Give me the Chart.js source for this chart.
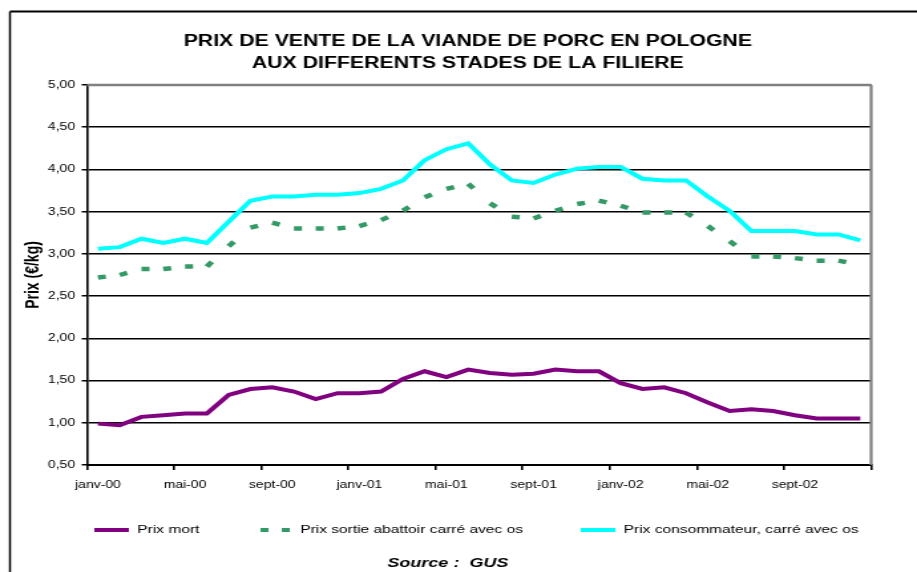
<!DOCTYPE html>
<html lang="fr">
<head>
<meta charset="utf-8">
<title>Prix de vente de la viande de porc en Pologne</title>
<script src="https://cdn.jsdelivr.net/npm/chart.js@4.4.1/dist/chart.umd.min.js"></script>
<style>
  html, body { margin: 0; padding: 0; background: #fff; overflow: hidden; }
  #prixChart { display: block; }
</style>
</head>
<body>
<!-- drawn at 690px wide then widened to 917px, like the old pasted chart -->
<canvas id="prixChart" width="690" height="572" style="width:917px;height:572px"></canvas>
<script>
const mois = [
  "janv-00", "févr-00", "mars-00", "avr-00", "mai-00", "juin-00", "juil-00", "août-00", "sept-00", "oct-00", "nov-00", "déc-00",
  "janv-01", "févr-01", "mars-01", "avr-01", "mai-01", "juin-01", "juil-01", "août-01", "sept-01", "oct-01", "nov-01", "déc-01",
  "janv-02", "févr-02", "mars-02", "avr-02", "mai-02", "juin-02", "juil-02", "août-02", "sept-02", "oct-02", "nov-02", "déc-02",
];

// €/kg
const prixMort = [
  0.99, 0.97, 1.07, 1.09, 1.11, 1.11, 1.33, 1.40, 1.42, 1.37, 1.28, 1.35,
  1.35, 1.37, 1.52, 1.61, 1.54, 1.63, 1.59, 1.57, 1.58, 1.63, 1.61, 1.61,
  1.47, 1.40, 1.42, 1.35, 1.24, 1.14, 1.16, 1.14, 1.09, 1.05, 1.05, 1.05,
];
const prixAbattoir = [
  2.72, 2.75, 2.82, 2.82, 2.85, 2.85, 3.09, 3.31, 3.37, 3.30, 3.30, 3.30,
  3.33, 3.40, 3.51, 3.67, 3.77, 3.83, 3.60, 3.44, 3.42, 3.51, 3.59, 3.63,
  3.57, 3.49, 3.49, 3.49, 3.33, 3.15, 2.97, 2.97, 2.95, 2.92, 2.92, 2.87,
];
const prixConsommateur = [
  3.06, 3.08, 3.18, 3.13, 3.18, 3.13, 3.38, 3.63, 3.68, 3.68, 3.70, 3.70,
  3.72, 3.77, 3.87, 4.11, 4.24, 4.31, 4.06, 3.87, 3.84, 3.94, 4.01, 4.03,
  4.03, 3.89, 3.87, 3.87, 3.68, 3.51, 3.27, 3.27, 3.27, 3.23, 3.23, 3.16,
];

const yMin = 0.5;
const yMax = 5;
const yPas = 0.5;
const pasEtiquettes = 4; // one month label out of four

const VIOLET = "#800080";
const VERT = "#339966";
const CYAN = "#00FFFF";

Chart.defaults.font.family = '"Liberation Sans", Arial, sans-serif';
Chart.defaults.color = "#000";

// small pictures used as legend keys
function echantillon(couleur, tirets) {
  const c = document.createElement("canvas");
  c.width = 26;
  c.height = 4;
  const g = c.getContext("2d");
  g.fillStyle = couleur;
  if (tirets) {
    g.fillRect(2, 0, 6, 4);
    g.fillRect(18, 0, 6, 4);
  } else {
    g.fillRect(0, 0, 26, 4);
  }
  return c;
}

const cadre = {
  id: "cadre",
  beforeDraw(chart) {
    const ctx = chart.ctx;
    ctx.save();
    ctx.fillStyle = "#fff";
    ctx.fillRect(0, 0, chart.width, chart.height);
    ctx.strokeStyle = "#000";
    ctx.lineWidth = 2;
    ctx.beginPath();
    ctx.moveTo(7.5, 11.5);
    ctx.lineTo(chart.width, 11.5);
    ctx.stroke();
    ctx.lineWidth = 1.5;
    ctx.beginPath();
    ctx.moveTo(7.5, 11.5);
    ctx.lineTo(7.5, chart.height);
    ctx.stroke();
    ctx.restore();
  },
  beforeDatasetsDraw(chart) {
    // grey edge of the plot area, top and right
    const { ctx, chartArea: a } = chart;
    ctx.save();
    ctx.strokeStyle = "#808080";
    ctx.lineWidth = 2.5;
    ctx.beginPath();
    ctx.moveTo(a.left, a.top);
    ctx.lineTo(a.right, a.top);
    ctx.stroke();
    ctx.lineWidth = 2.2;
    ctx.beginPath();
    ctx.moveTo(a.right, a.top);
    ctx.lineTo(a.right, a.bottom);
    ctx.stroke();
    ctx.restore();
  },
  afterDraw(chart) {
    const ctx = chart.ctx;
    ctx.save();
    ctx.font = 'italic bold 13.5px "Liberation Sans", Arial, sans-serif';
    ctx.fillStyle = "#000";
    ctx.textAlign = "center";
    ctx.textBaseline = "middle";
    ctx.fillText("Source :  GUS", 337, 563);
    ctx.restore();
  },
};

new Chart(document.getElementById("prixChart"), {
  type: "line",
  data: {
    labels: mois,
    datasets: [
      {
        label: "Prix mort",
        data: prixMort,
        borderColor: VIOLET,
        backgroundColor: VIOLET,
        borderWidth: 4,
        pointStyle: echantillon(VIOLET, false),
      },
      {
        label: "Prix sortie abattoir carré avec os",
        data: prixAbattoir,
        borderColor: VERT,
        backgroundColor: VERT,
        borderWidth: 4.5,
        borderDash: [6, 30],
        borderCapStyle: "butt",
        // each month stroked on its own so the dash starts again at every point
        segment: {
          borderDashOffset: (c) => (c.p0DataIndex % 2) * 0.01,
        },
        pointStyle: echantillon(VERT, true),
      },
      {
        label: "Prix consommateur, carré avec os",
        data: prixConsommateur,
        borderColor: CYAN,
        backgroundColor: CYAN,
        borderWidth: 4,
        pointStyle: echantillon(CYAN, false),
      },
    ],
  },
  options: {
    responsive: false,
    maintainAspectRatio: false,
    devicePixelRatio: 1,
    animation: false,
    events: [],
    elements: {
      line: { tension: 0 },
      point: { radius: 0, hoverRadius: 0 },
    },
    layout: { padding: { left: 14, right: 0, top: 0, bottom: 26.15 } },
    plugins: {
      tooltip: { enabled: false },
      title: {
        display: true,
        text: ["PRIX DE VENTE DE LA VIANDE DE PORC EN POLOGNE", "AUX DIFFERENTS STADES DE LA FILIERE"],
        font: { size: 16, weight: "bold", lineHeight: 1.375 },
        color: "#000",
        padding: { top: 31, bottom: 10 },
      },
      legend: {
        position: "bottom",
        align: "end",
        labels: {
          usePointStyle: true,
          pointStyleWidth: 26,
          padding: 44,
          font: { size: 11.7 },
          color: "#000",
        },
      },
    },
    scales: {
      x: {
        type: "category",
        offset: true,
        grid: {
          offset: true,
          drawOnChartArea: false,
          drawTicks: true,
          tickLength: 5,
          lineWidth: 1.6,
          color: (c) => (c.index === undefined || c.index % pasEtiquettes === 0 ? "#000" : "rgba(0,0,0,0)"),
        },
        border: { display: true, color: "#000", width: 2 },
        ticks: {
          autoSkip: false,
          maxRotation: 0,
          // mirrored with a negative padding: labels sit under the axis
          // but the axis box stays thin so the legend can come up close
          mirror: true,
          padding: -26.3,
          font: { size: 10.5 },
          color: "#000",
          callback: function (v, i) {
            return i % pasEtiquettes === 0 ? this.getLabelForValue(v) : "";
          },
        },
        afterFit(scale) {
          scale.height = 15.15;
          scale.paddingRight = 34.5;
        },
      },
      y: {
        min: yMin,
        max: yMax,
        grid: {
          color: "#000",
          lineWidth: 1.5,
          drawTicks: true,
          tickLength: 4,
        },
        border: { display: true, color: "#000", width: 1.6 },
        ticks: {
          stepSize: yPas,
          padding: 5,
          font: { size: 10.5 },
          color: "#000",
          callback: (v) => v.toFixed(2).replace(".", ","),
        },
        title: {
          display: true,
          text: "Prix (€/kg)",
          font: { size: 14, weight: "bold", lineHeight: 1.2 },
          color: "#000",
          padding: { top: 2.4, bottom: 0 },
        },
        afterFit(scale) {
          scale.width = 51.5;
        },
      },
    },
  },
  plugins: [cadre],
});
</script>
</body>
</html>
